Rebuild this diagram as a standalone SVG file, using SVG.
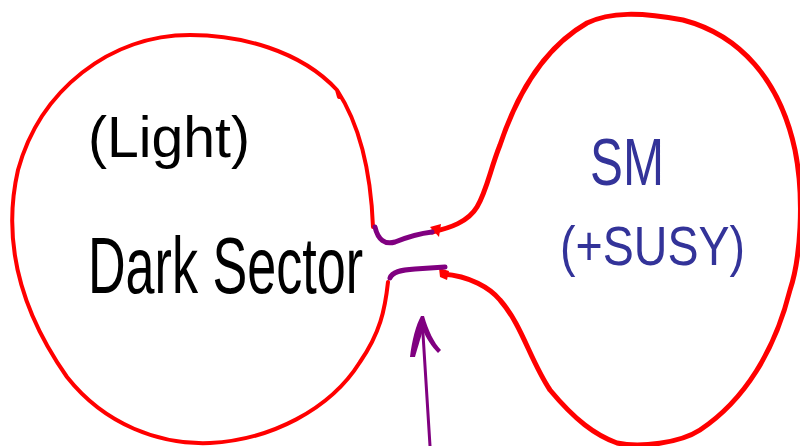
<svg xmlns="http://www.w3.org/2000/svg" width="800" height="446" viewBox="0 0 800 446">
<style>
.red{fill:none;stroke:#ff0000;stroke-linecap:round;stroke-linejoin:round}
.pur{fill:none;stroke:#800080;stroke-width:5;stroke-linecap:round;stroke-linejoin:round}
.blk{font-family:"Liberation Sans","DejaVu Sans",sans-serif;fill:#000}
.blu{font-family:"Liberation Sans","DejaVu Sans",sans-serif;fill:#333399}
</style>
<rect width="800" height="446" fill="#fff"/>
<g id="dark-sector">
<path class="red" stroke-width="4" d="M373,227 C371,175 360,125 337,90 L339,97 M337,90 C300,50 240,35 190,35 C110,35 40,90 18,170 C2,240 20,310 67,377 C105,425 160,445 210,443 C270,440 330,410 360,362 C380,333 385,310 388,282"/>
<text class="blk" x="88" y="157" font-size="58" textLength="162" lengthAdjust="spacingAndGlyphs">(Light)</text>
<text class="blk" x="88" y="293" font-size="80" textLength="275" lengthAdjust="spacingAndGlyphs">Dark Sector</text>
</g>
<g id="sm">
<path class="red" stroke-width="5" d="M432,232 C450,228 468,222 477,207 C487,190 490,170 500,145 C515,100 540,50 587,23 C610,12 640,12 683,20 C740,35 780,80 795,150 C805,200 800,260 790,290 C775,350 745,400 700,430 C680,443 640,448 617,443 C595,435 575,420 550,390 C530,360 522,325 500,300 C490,288 470,276 443,274"/>
<path fill="#ff0000" d="M430,227 L441,224 L439,237 Z M439,268 L449,271 L447,280 L440,277 Z"/>
<text class="blu" x="590" y="185" font-size="66" textLength="74" lengthAdjust="spacingAndGlyphs">SM</text>
<text class="blu" x="560" y="265" font-size="56" textLength="185" lengthAdjust="spacingAndGlyphs">(+SUSY)</text>
</g>
<g id="connectors">
<path class="pur" d="M375,227 C378,240 385,245 395,242 C405,238 415,234 432,232"/>
<path class="pur" d="M390,278 C392,272 400,270 415,269 L445,267"/>
<path fill="none" stroke="#800080" stroke-width="3" d="M430,446 L422,318"/>
<path fill="#800080" d="M410,357 C412,340 416,325 421,316 L424,316 C428,330 434,343 441,350 L438,353 C432,347 426,338 423,330 C420,340 417,350 415,357 Z"/>
</g>
</svg>
